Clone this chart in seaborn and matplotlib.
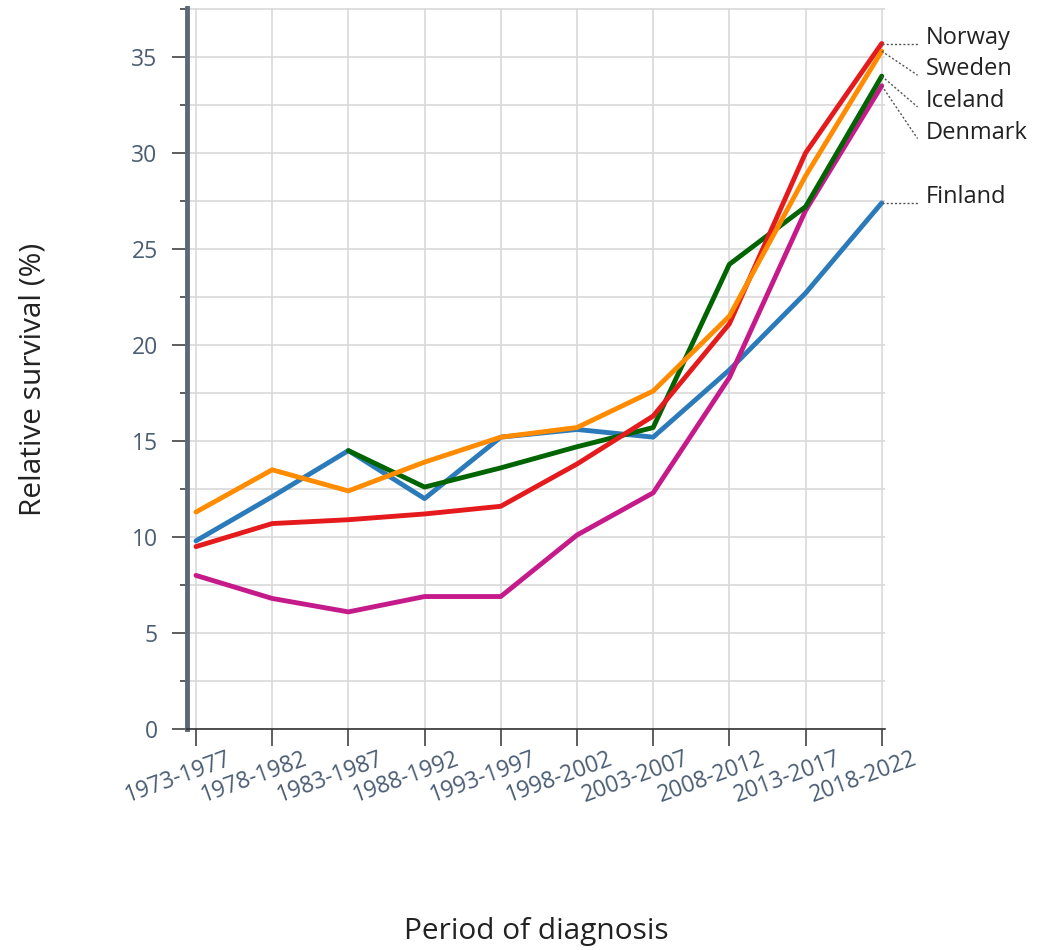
import numpy as np
import pandas as pd
import matplotlib
matplotlib.use("Agg")
import matplotlib.pyplot as plt
import seaborn as sns
from matplotlib.ticker import MultipleLocator
from matplotlib.transforms import ScaledTranslation

# values
periods = ["1973-1977", "1978-1982", "1983-1987", "1988-1992", "1993-1997",
           "1998-2002", "2003-2007", "2008-2012", "2013-2017", "2018-2022"]
finland = [9.8, 12.1, 14.5, 12.0, 15.2, 15.6, 15.2, 18.7, 22.7, 27.4]
denmark = [8.0, 6.8, 6.1, 6.9, 6.9, 10.1, 12.3, 18.3, 27.0, 33.5]
iceland = [np.nan, np.nan, 14.5, 12.6, 13.6, 14.7, 15.7, 24.2, 27.2, 34.0]
norway = [9.5, 10.7, 10.9, 11.2, 11.6, 13.8, 16.3, 21.1, 30.0, 35.7]
sweden = [11.3, 13.5, 12.4, 13.9, 15.2, 15.7, 17.6, 21.5, 28.8, 35.3]

countries = ["Finland", "Denmark", "Iceland", "Norway", "Sweden"]
colors = ["#2b7bba", "#c51b8a", "#006400", "#e41a1c", "#ff8c00"]
series = [finland, denmark, iceland, norway, sweden]

df = pd.concat([pd.DataFrame({"period": periods, "survival": s, "country": c})
                for c, s in zip(countries, series)], ignore_index=True)

sns.set_style("whitegrid")
plt.rcParams["font.family"] = ["Open Sans", "DejaVu Sans"]

fig = plt.figure(figsize=(10.38, 9.5), dpi=100)
ax = fig.add_axes([0.180, 0.2326, 0.6724, 0.759])

sns.lineplot(data=df, x="period", y="survival", hue="country",
             hue_order=countries, palette=dict(zip(countries, colors)),
             linewidth=3.5, sort=False, legend=False, ax=ax)

ax.set_xlim(-0.12, 9.04)
ax.set_ylim(0, 37.55)
ax.set_xticks(range(len(periods)))
ax.set_xticklabels(periods)

ax.yaxis.set_major_locator(MultipleLocator(5))
ax.yaxis.set_minor_locator(MultipleLocator(2.5))
ax.grid(True, which="both", axis="y", color="#d9d9d9", linewidth=1.2)
ax.grid(True, which="major", axis="x", color="#d9d9d9", linewidth=1.2)

for side in ["top", "right"]:
    ax.spines[side].set_visible(False)
ax.spines["left"].set_linewidth(3.5)
ax.spines["left"].set_color("#5a6878")
ax.spines["bottom"].set_linewidth(1.2)
ax.spines["bottom"].set_color("#333333")

tick_col = "#4b5d73"
ax.tick_params(axis="y", which="major", length=11, width=1.1, color="#333333",
               labelsize=16.5, labelcolor=tick_col, pad=10, left=True)
ax.tick_params(axis="y", which="minor", length=5, width=1.1, color="#333333", left=True)
ax.tick_params(axis="x", which="major", length=12, width=1.1, color="#333333",
               labelsize=16.5, labelcolor=tick_col, pad=1, bottom=True)
for lab in ax.get_xticklabels():
    lab.set_rotation(20)
    lab.set_ha("center")
    lab.set_transform(lab.get_transform() + ScaledTranslation(-0.18, 0, fig.dpi_scale_trans))

ax.set_xlabel("Period of diagnosis", fontsize=21.5, color="#222222")
ax.xaxis.label.set_va("center")
ax.xaxis.set_label_coords(0.5, -0.281)
ax.set_ylabel("Relative survival (%)", fontsize=21.5, color="#222222")
ax.yaxis.set_label_coords(-0.199, 0.485)

# end labels with dotted leaders, spread so they do not overlap
last_idx = len(periods) - 1
ends = sorted([(s[-1], c) for c, s in zip(countries, series)], reverse=True)
gap = 1.65
prev = None
for val, name in ends:
    ly = val if prev is None or prev - val >= gap else prev - gap
    prev = ly
    ax.plot([last_idx, last_idx + 0.47], [val, ly], color="#555555",
            linestyle=(0, (1.5, 1.5)), linewidth=1.0, clip_on=False)
    ax.text(last_idx + 0.58, ly, name, fontsize=17, color="#222222",
            ha="left", va="baseline", clip_on=False)

fig.savefig("out.png", dpi=100)
